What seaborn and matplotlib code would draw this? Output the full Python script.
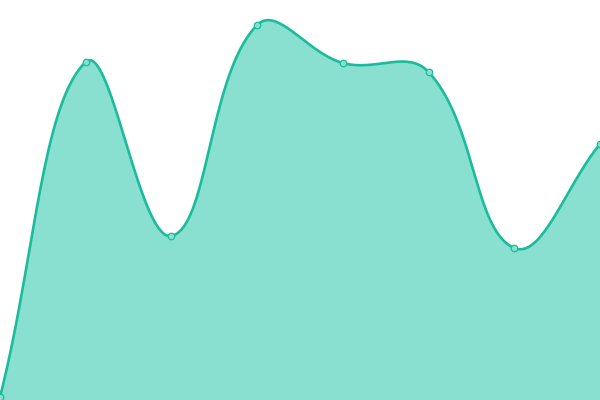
import numpy as np
import pandas as pd
import seaborn as sns
import matplotlib
matplotlib.use("Agg")
import matplotlib.pyplot as plt

# values (0..400 scale, no visible axes)
positions = [0, 1, 2, 3, 4, 5, 6, 7]
values = [3, 338, 164, 375, 337, 328, 152, 256]

LINE = "#1abc9c"
FILL = "#8ae0d0"
TENSION = 0.4


def spline_curve(xs, ys, w_px, h_px, x_max, y_max, steps=40):
    """cardinal bezier like Chart.js, computed in pixel space"""
    px = np.array(xs, float) * w_px / x_max
    py = np.array(ys, float) * h_px / y_max
    n = len(px)
    ctrl = []
    for i in range(n):
        p0 = np.array([px[max(i - 1, 0)], py[max(i - 1, 0)]])
        p1 = np.array([px[i], py[i]])
        p2 = np.array([px[min(i + 1, n - 1)], py[min(i + 1, n - 1)]])
        d01 = np.hypot(*(p1 - p0))
        d12 = np.hypot(*(p2 - p1))
        tot = d01 + d12
        fa = TENSION * d01 / tot if tot else 0
        fb = TENSION * d12 / tot if tot else 0
        prev_c = p1 - fa * (p2 - p0)
        next_c = p1 + fb * (p2 - p0)
        prev_c[1] = np.clip(prev_c[1], 0, h_px)
        next_c[1] = np.clip(next_c[1], 0, h_px)
        ctrl.append((prev_c, next_c))
    cx, cy = [], []
    t = np.linspace(0, 1, steps)
    for i in range(n - 1):
        a = np.array([px[i], py[i]])
        b = ctrl[i][1]
        c = ctrl[i + 1][0]
        d = np.array([px[i + 1], py[i + 1]])
        pts = ((1 - t) ** 3)[:, None] * a + (3 * (1 - t) ** 2 * t)[:, None] * b \
            + (3 * (1 - t) * t ** 2)[:, None] * c + (t ** 3)[:, None] * d
        cx.extend(pts[:, 0])
        cy.extend(pts[:, 1])
    cx = np.array(cx) * x_max / w_px
    cy = np.array(cy) * y_max / h_px
    return cx, cy


sns.set_style("white")
fig = plt.figure(figsize=(6, 4), dpi=100)
ax = fig.add_axes([0, 0, 1, 1])

cx, cy = spline_curve(positions, values, 600, 400, 7, 400)
curve = pd.DataFrame({"x": cx, "y": cy})
pts = pd.DataFrame({"x": positions, "y": values})

ax.fill_between(curve["x"], curve["y"], 0, color=FILL, linewidth=0, zorder=1)
sns.lineplot(data=curve, x="x", y="y", sort=False, color=LINE, linewidth=1.9,
             ax=ax, zorder=2)
sns.scatterplot(data=pts, x="x", y="y", s=22, color=FILL, edgecolor=LINE,
                linewidth=0.9, ax=ax, zorder=3, clip_on=False)

ax.set_xlim(0, 7)
ax.set_ylim(0, 400)
ax.set_axis_off()

plt.savefig("out.png", dpi=100)
